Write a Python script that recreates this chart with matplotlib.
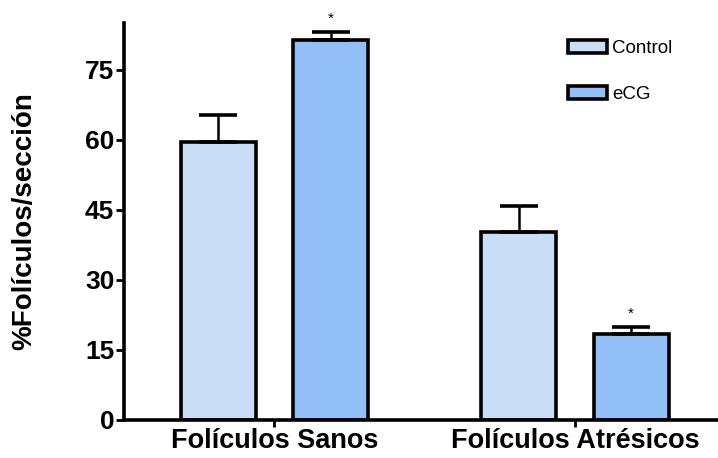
import matplotlib

matplotlib.use("Agg")
import matplotlib.pyplot as plt
import numpy as np
from matplotlib.patches import Patch

plt.rcParams["font.family"] = ["Liberation Sans", "DejaVu Sans"]

categories = ["Folículos Sanos", "Folículos Atrésicos"]
groups = ["Control", "eCG"]
control_mean = [59.6, 40.2]
control_sem = [5.6, 5.5]
ecg_mean = [81.4, 18.5]
ecg_sem = [1.6, 1.4]
significant = [True, True]  # eCG vs Control, p < 0.05

colors = {"Control": "#c9ddf6", "eCG": "#92bff8"}
width = 0.25
offset = 0.187

fig = plt.figure(figsize=(7.18, 4.58), dpi=100)
ax = fig.add_axes([0.1727, 0.083, 0.8273, 0.867])

x = np.arange(len(categories))
err_kw = dict(elinewidth=1.8, capthick=2.6, ecolor="black")
ax.bar(x - offset, control_mean, width, color=colors["Control"], edgecolor="black",
       linewidth=2.6, yerr=[np.zeros(len(x)), control_sem], capsize=14,
       error_kw=err_kw, zorder=2)
ax.bar(x + offset, ecg_mean, width, color=colors["eCG"], edgecolor="black",
       linewidth=2.6, yerr=[np.zeros(len(x)), ecg_sem], capsize=14,
       error_kw=err_kw, zorder=2)

for xi, m, s, sig in zip(x + offset, ecg_mean, ecg_sem, significant):
    if sig:
        ax.text(xi, m + s + 1.4, "*", ha="center", va="bottom", fontsize=11,
                clip_on=False)

ax.set_xlim(-0.5, 1.476)
ax.set_ylim(0, 85)
ax.set_yticks([0, 15, 30, 45, 60, 75])
ax.set_xticks(x)
ax.set_xticklabels(categories, fontsize=19.5, fontweight="bold")
for lab in ax.get_yticklabels():
    lab.set_fontsize(19)
    lab.set_fontweight("bold")
ax.tick_params(axis="y", length=6, width=2, pad=1)
ax.tick_params(axis="x", length=5, width=2, pad=1)
ax.set_ylabel("%Folículos/sección", fontsize=20, fontweight="bold", labelpad=34)

for side in ("top", "right"):
    ax.spines[side].set_visible(False)
for side in ("left", "bottom"):
    ax.spines[side].set_linewidth(2.6)

handles = [Patch(facecolor=colors[g], edgecolor="black", linewidth=2.6) for g in groups]
ax.legend(handles, groups, loc="upper left", bbox_to_anchor=(0.725, 0.99),
          frameon=False, fontsize=13.5, labelspacing=1.55, handlelength=2.1,
          handleheight=0.7, handletextpad=0.25, borderaxespad=0.3)

fig.savefig("out.png", dpi=100)
